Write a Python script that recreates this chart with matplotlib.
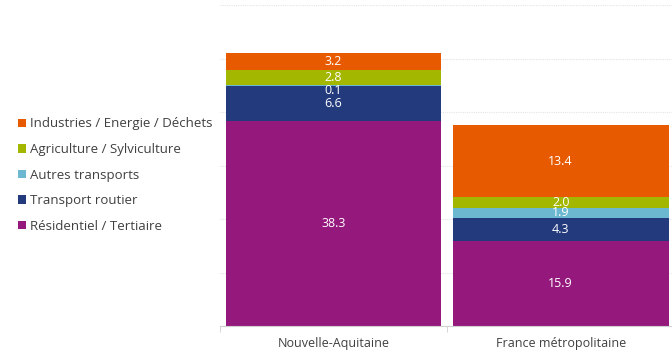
import numpy as np
import matplotlib.pyplot as plt

# Données
regions = ["Nouvelle-Aquitaine", "France métropolitaine"]
secteurs = ["Résidentiel / Tertiaire", "Transport routier", "Autres transports",
            "Agriculture / Sylviculture", "Industries / Energie / Déchets"]
residentiel = [38.3, 15.9]
routier = [6.6, 4.3]
autres_transports = [0.1, 1.9]
agriculture = [2.8, 2.0]
industries = [3.2, 13.4]

couleurs = ["#95187C", "#233A7C", "#6BB8D0", "#A3B600", "#E85A00"]

plt.rcParams['font.family'] = ['Open Sans', 'DejaVu Sans']

fig = plt.figure(figsize=(6.72, 3.56), dpi=100)
ax = fig.add_axes([220 / 672, 30 / 356, 452 / 672, 321 / 356])

x = np.arange(len(regions))
series = [residentiel, routier, autres_transports, agriculture, industries]
bottom = np.zeros(len(regions))
handles = []
for vals, nom, c in zip(series, secteurs, couleurs):
    vals = np.array(vals)
    b = ax.bar(x, vals, width=0.95, bottom=bottom, color=c, label=nom, zorder=2)
    handles.append(b)
    for i, v in enumerate(vals):
        y = bottom[i] + v / 2
        if v < 0.5:
            y -= 0.9  # petit segment : étiquette décalée
        ax.text(x[i], y, f"{v:.1f}", ha="center", va="center",
                color="white", fontsize=9, zorder=3)
    bottom += vals

ax.set_xlim(-0.5, 1.49)
ax.set_ylim(0, 60)
ax.set_yticks(np.arange(0, 61, 10))
ax.set_yticklabels([])
ax.tick_params(axis="y", length=0)
ax.grid(axis="y", color="#e4e4e4", linewidth=0.8, linestyle=(0, (1, 1)), zorder=0)

ax.set_xticks(x)
ax.set_xticklabels(regions, fontsize=9, color="#404040")
ax.tick_params(axis="x", length=0, pad=8)
ax.set_xticks([-0.5, 0.5], minor=True)
ax.tick_params(axis="x", which="minor", length=4, color="#d0d0d0")

for s in ["top", "right", "left"]:
    ax.spines[s].set_visible(False)
ax.spines["bottom"].set_color("#d0d0d0")

fig.legend(handles[::-1], secteurs[::-1], loc="center left",
           bbox_to_anchor=(6 / 672, 1 - 175 / 356), frameon=False,
           fontsize=9.5, labelcolor="#404040", handlelength=0.6,
           handleheight=0.6, handletextpad=0.3, labelspacing=0.95)

fig.savefig("out.png", dpi=100)
